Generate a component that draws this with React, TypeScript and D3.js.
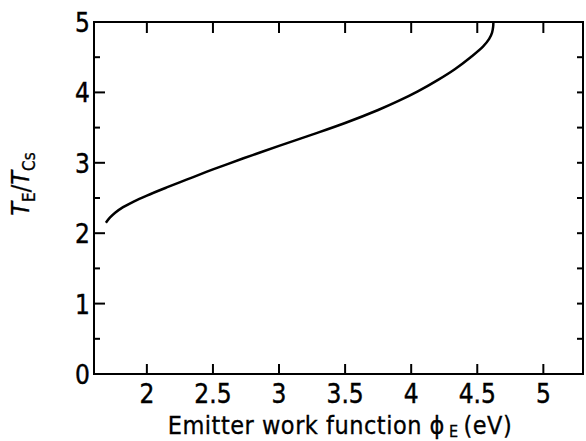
import React from "react";
import * as d3 from "d3";

// Emitter work function (eV) and temperature ratio T_E / T_Cs along the curve
const workFunction = [1.69, 1.72, 1.76, 1.82, 1.9, 2.0, 2.15, 2.3, 2.45, 2.6, 2.8, 3.0, 3.25, 3.5, 3.75, 3.9, 4.05, 4.2, 4.33, 4.45, 4.543, 4.59, 4.612, 4.62, 4.622];
const tempRatio = [2.15, 2.22, 2.29, 2.37, 2.45, 2.535, 2.65, 2.76, 2.87, 2.975, 3.11, 3.24, 3.4, 3.565, 3.75, 3.875, 4.015, 4.175, 4.33, 4.5, 4.65, 4.76, 4.85, 4.93, 5.0];

const xTicks = [2, 2.5, 3, 3.5, 4, 4.5, 5];
const xTickLabels = ["2", "2.5", "3", "3.5", "4", "4.5", "5"];
const yMajorTicks = [0, 1, 2, 3, 4, 5];
const yMinorTicks = [0.5, 1.5, 2.5, 3.5, 4.5];

const W = 586;
const H = 441;
const left = 94;
const right = 583;
const top = 22;
const bottom = 374;
const font = "'DejaVu Sans Condensed', 'DejaVu Sans', Verdana, sans-serif";

export default function App() {
  const x = d3.scaleLinear().domain([1.6, 5.3]).range([left, right]);
  const y = d3.scaleLinear().domain([0, 5]).range([bottom, top]);

  const points: [number, number][] = workFunction.map((w, i) => [w, tempRatio[i]]);
  const line = d3
    .line<[number, number]>()
    .x((d) => x(d[0]))
    .y((d) => y(d[1]))
    .curve(d3.curveCatmullRom.alpha(0.5));

  const rightTicks = [...yMinorTicks, ...yMajorTicks.slice(1, 5)];

  return (
    <svg width={W} height={H} style={{ position: "absolute", left: 0, top: 0, background: "#fff" }}>
      <rect x={0} y={0} width={W} height={H} fill="#fff" />
      <g stroke="#000" strokeWidth={2} fill="none">
        <rect x={left} y={top} width={right - left} height={bottom - top} />
        {xTicks.map((t) => (
          <g key={"xt" + t}>
            <line x1={x(t)} x2={x(t)} y1={bottom} y2={bottom - 10} />
            <line x1={x(t)} x2={x(t)} y1={top} y2={top + 11} />
          </g>
        ))}
        {yMajorTicks.map((t) => (
          <line key={"ym" + t} x1={left} x2={left + 11} y1={y(t)} y2={y(t)} />
        ))}
        {yMinorTicks.map((t) => (
          <line key={"yn" + t} x1={left} x2={left + 6} y1={y(t)} y2={y(t)} />
        ))}
        {rightTicks.map((t) => (
          <line key={"yr" + t} x1={right} x2={right - 6} y1={y(t)} y2={y(t)} />
        ))}
      </g>
      <path d={line(points) ?? ""} fill="none" stroke="#000" strokeWidth={2.5} />
      <g fontFamily={font} fontSize={26} fill="#000" stroke="#000" strokeWidth={0.4}>
        {xTicks.map((t, i) => (
          <text key={"xl" + t} x={x(t)} y={403} textAnchor="middle">
            {xTickLabels[i]}
          </text>
        ))}
        {yMajorTicks.map((t) => (
          <text key={"yl" + t} x={90} y={y(t) + 10} textAnchor="end">
            {t}
          </text>
        ))}
      </g>
      <text
        x={340}
        y={434}
        textAnchor="middle"
        fontFamily={font}
        fontSize={25}
        letterSpacing={0.5}
        fill="#000"
        stroke="#000"
        strokeWidth={0.3}
      >
        Emitter work function ϕ
        <tspan fontSize={16} dy={3} dx={4}>E</tspan>
        <tspan dy={-3} dx={5}>(eV)</tspan>
      </text>
      <text
        transform="translate(29,184) rotate(-90)"
        textAnchor="middle"
        fontFamily={font}
        fontSize={25}
        fill="#000"
        stroke="#000"
        strokeWidth={0.3}
      >
        <tspan fontStyle="italic">T</tspan>
        <tspan fontSize={17} dy={6}>E</tspan>
        <tspan dy={-6}>/</tspan>
        <tspan fontStyle="italic">T</tspan>
        <tspan fontSize={17} dy={6}>Cs</tspan>
      </text>
    </svg>
  );
}
